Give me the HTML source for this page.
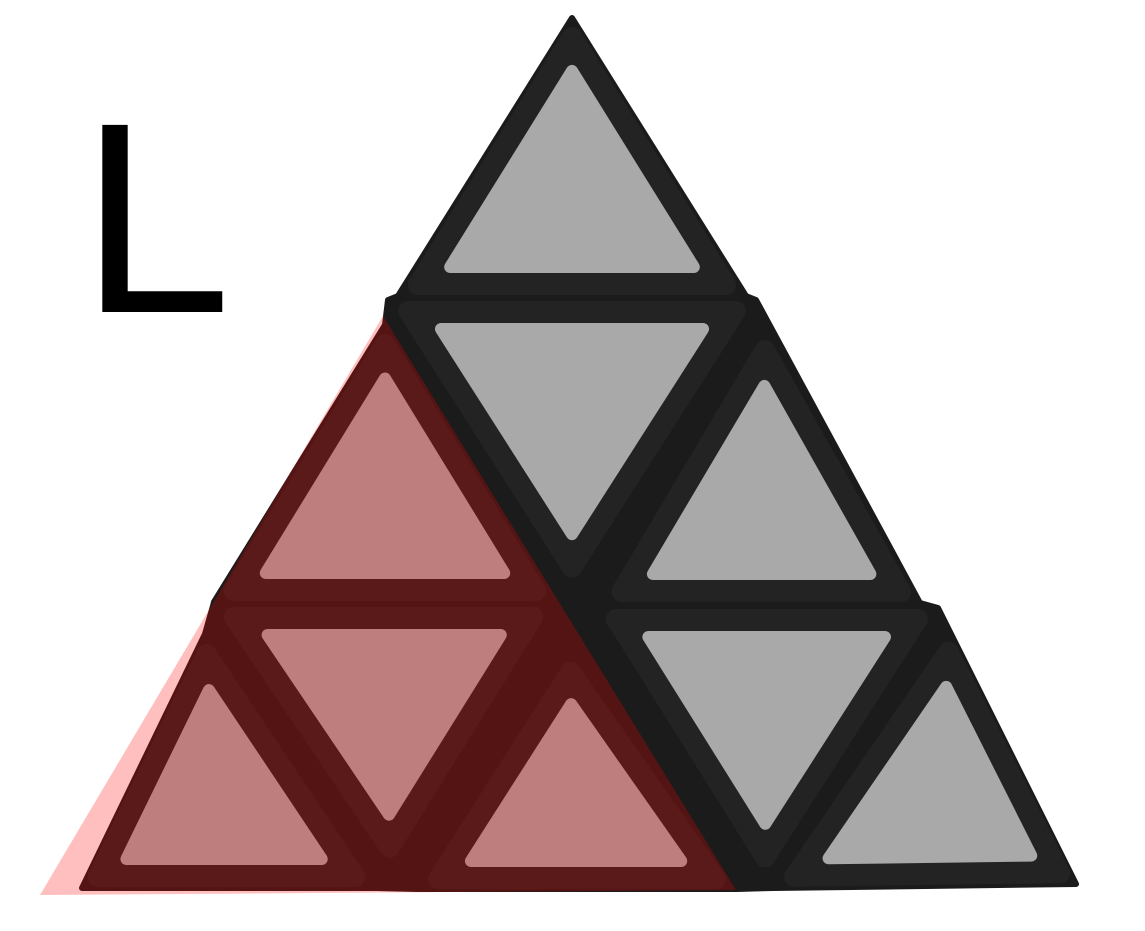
<!DOCTYPE html>
<html><head><meta charset="utf-8"><style>
html,body{margin:0;padding:0;background:#fff;width:1145px;height:931px;overflow:hidden}
svg{display:block}
</style></head><body>
<svg id="s" width="1145" height="931" viewBox="0 0 1145 931">
<text x="80" y="312" font-family="Liberation Sans, sans-serif" font-size="272" fill="#000">L</text>
<polygon fill="#1b1b1b" stroke="#1b1b1b" stroke-width="6" stroke-linejoin="round" points="572,18 746,296 756,300 920,603 938,608 1076,884 773,888 737,889 418,889 376,888 82,888 205,634 213,606 214,602 385,325 388,300 398,296"/>
<g id="pieces"></g>
<polygon points="383,316 40,895 736,890" fill="rgba(255,0,0,0.25)"/>
</svg>
<script>
const pieceNames=['top','middle-inverted','middle-right','middle-left','bottom-left','bottom-center-inverted','bottom-center','bottom-right-inverted','bottom-right'];
const pieceTris=[
 [[572,16],[398,296],[746,296]],
 [[388,300],[756,300],[572,588]],
 [[765,328],[602,603],[920,603]],
 [[385,323],[214,602],[556,602]],
 [[205,632],[80,888],[376,888]],
 [[213,606],[553,606],[390,868]],
 [[570,652],[418,890],[737,890]],
 [[596,608],[938,608],[765,878]],
 [[950,630],[773,888],[1078,884]]
];
function inset(t,d){
  const L=(a,b)=>Math.hypot(a[0]-b[0],a[1]-b[1]);
  const a=L(t[1],t[2]),b=L(t[0],t[2]),c=L(t[0],t[1]),p=a+b+c;
  const I=[(a*t[0][0]+b*t[1][0]+c*t[2][0])/p,(a*t[0][1]+b*t[1][1]+c*t[2][1])/p];
  const s=p/2,area=Math.sqrt(s*(s-a)*(s-b)*(s-c)),r=area/s,k=(r-d)/r;
  return t.map(q=>[I[0]+(q[0]-I[0])*k,I[1]+(q[1]-I[1])*k]);
}
const g=document.getElementById('pieces');
const NS='http://www.w3.org/2000/svg';
function poly(pts,attrs){
  const e=document.createElementNS(NS,'polygon');
  e.setAttribute('points',pts.map(p=>p.join(',')).join(' '));
  for(const k in attrs)e.setAttribute(k,attrs[k]);
  return e;
}
pieceTris.forEach((t,i)=>{
  const o=poly(inset(t,11),{fill:'#232323',stroke:'#232323','stroke-width':20,'stroke-linejoin':'round'});
  
  
  g.appendChild(o);
  const st=poly(inset(t,29),{fill:'#a9a9a9',stroke:'#a9a9a9','stroke-width':12,'stroke-linejoin':'round'});
  
  
  g.appendChild(st);
});
</script>
</body></html>
